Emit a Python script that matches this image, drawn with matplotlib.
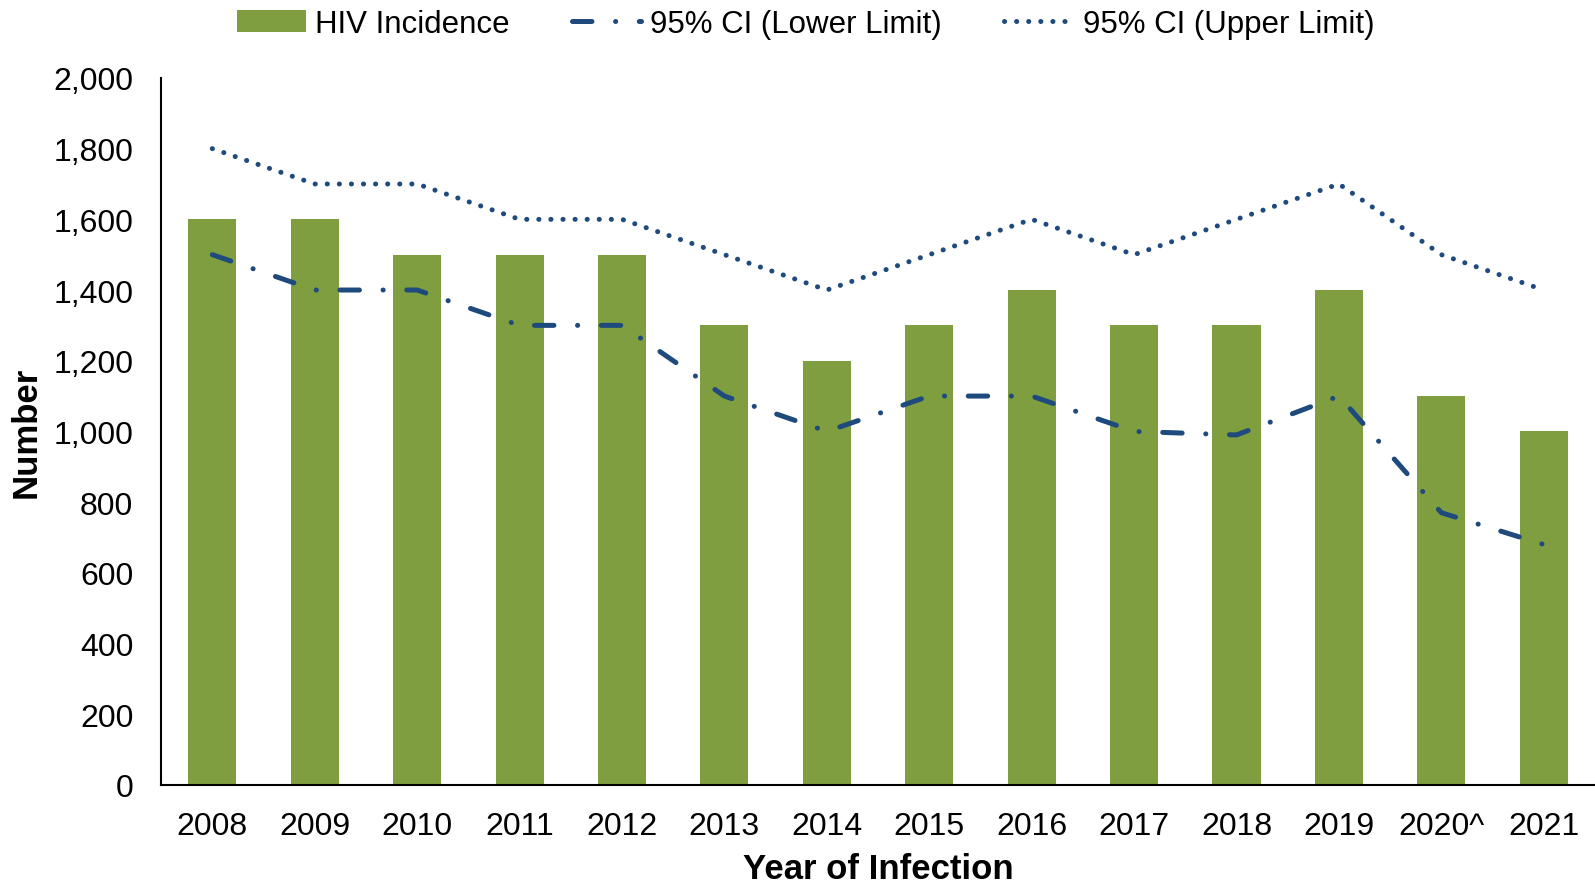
import numpy as np
import matplotlib.pyplot as plt

plt.rcParams['font.family'] = ['Liberation Sans', 'DejaVu Sans']
plt.rcParams['lines.scale_dashes'] = False

# data
years = ['2008', '2009', '2010', '2011', '2012', '2013', '2014',
         '2015', '2016', '2017', '2018', '2019', '2020^', '2021']
incidence = [1600, 1600, 1500, 1500, 1500, 1300, 1200,
             1300, 1400, 1300, 1300, 1400, 1100, 1000]
ci_lower = [1500, 1400, 1400, 1300, 1300, 1100, 1000,
            1100, 1100, 1000, 990, 1100, 770, 680]
ci_upper = [1800, 1700, 1700, 1600, 1600, 1500, 1400,
            1500, 1600, 1500, 1600, 1700, 1500, 1400]

green = '#7F9E3F'
navy = '#1F4A7D'

fig = plt.figure(figsize=(15.95, 8.87), dpi=100)
ax = fig.add_axes([0.101, 0.114, 0.899, 0.797])

x = np.arange(len(years))
bars = ax.bar(x, incidence, width=0.47, color=green, label='HIV Incidence', zorder=2)
lo, = ax.plot(x, ci_lower, color=navy, lw=3.6, dashes=(14, 17, 0.1, 17),
              dash_capstyle='round', label='95% CI (Lower Limit)', zorder=3)
up, = ax.plot(x, ci_upper, color=navy, lw=3.6, dashes=(0.1, 8.6),
              dash_capstyle='round', label='95% CI (Upper Limit)', zorder=3)

ax.set_xlim(-0.5, len(years) - 0.5)
ax.set_ylim(0, 2000)
ax.set_yticks(range(0, 2001, 200))
ax.set_yticklabels([f'{v:,}' for v in range(0, 2001, 200)])
ax.set_xticks(x)
ax.set_xticklabels(years)
ax.tick_params(axis='both', length=0, labelsize=23)
ax.tick_params(axis='x', pad=19)
ax.tick_params(axis='y', pad=20)

for s in ['top', 'right']:
    ax.spines[s].set_visible(False)
for s in ['left', 'bottom']:
    ax.spines[s].set_linewidth(1.5)
    ax.spines[s].set_color('black')

ax.set_ylabel('Number', fontsize=25, fontweight='bold', labelpad=8)
ax.set_xlabel('Year of Infection', fontsize=25, fontweight='bold', labelpad=8)

fig.legend([bars, lo, up], ['HIV Incidence', '95% CI (Lower Limit)', '95% CI (Upper Limit)'],
           loc='center', bbox_to_anchor=(0.505, 0.972), ncol=3, frameon=False,
           fontsize=22.5, handlelength=2.2, handletextpad=0.3, columnspacing=2.0,
           borderpad=0)

fig.savefig('out.png', dpi=100)
